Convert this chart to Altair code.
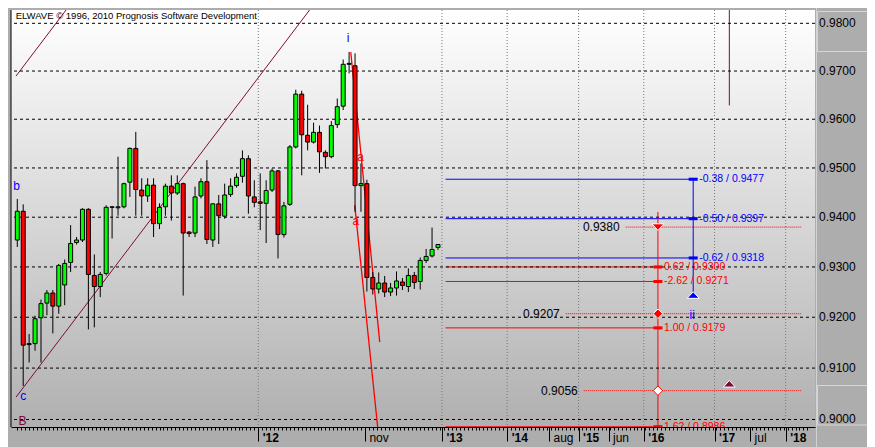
import json
import altair as alt
import pandas as pd

# ---------------- data ----------------
opens = [0.9354, 0.9412, 0.9146, 0.9148, 0.9199, 0.9228, 0.9248, 0.9222, 0.9264, 0.9309,
         0.9349, 0.9354, 0.9416, 0.9283, 0.9261, 0.9287, 0.9421, 0.9419, 0.9421, 0.9471,
         0.9540, 0.9455, 0.9443, 0.9465, 0.9387, 0.9421, 0.9463, 0.9449, 0.9468, 0.9370,
         0.9368, 0.9443, 0.9472, 0.9354, 0.9427, 0.9402, 0.9446, 0.9464, 0.9483, 0.9519,
         0.9441, 0.9431, 0.9428, 0.9455, 0.9494, 0.9365, 0.9426, 0.9543, 0.9652, 0.9567,
         0.9553, 0.9573, 0.9532, 0.9523, 0.9589, 0.9627, 0.9714, 0.9711, 0.9464, 0.9468,
         0.9279, 0.9256, 0.9268, 0.9250, 0.9258, 0.9270, 0.9261, 0.9283, 0.9271, 0.9313,
         0.9322, 0.9339]
highs = [0.9437, 0.9426, 0.9167, 0.9203, 0.9235, 0.9254, 0.9254, 0.9306, 0.9315, 0.9384,
         0.9360, 0.9418, 0.9418, 0.9325, 0.9290, 0.9424, 0.9422, 0.9523, 0.9470, 0.9542,
         0.9574, 0.9479, 0.9479, 0.9479, 0.9428, 0.9468, 0.9485, 0.9485, 0.9470, 0.9372,
         0.9462, 0.9479, 0.9516, 0.9428, 0.9445, 0.9468, 0.9479, 0.9489, 0.9536, 0.9526,
         0.9475, 0.9489, 0.9475, 0.9499, 0.9496, 0.9431, 0.9547, 0.9661, 0.9659, 0.9630,
         0.9593, 0.9587, 0.9536, 0.9596, 0.9643, 0.9724, 0.9740, 0.9737, 0.9509, 0.9476,
         0.9290, 0.9289, 0.9282, 0.9268, 0.9291, 0.9278, 0.9297, 0.9290, 0.9319, 0.9336,
         0.9379, 0.9346]
lows = [0.9340, 0.9065, 0.9111, 0.9134, 0.9111, 0.9204, 0.9168, 0.9207, 0.9224, 0.9290,
        0.9345, 0.9350, 0.9176, 0.9180, 0.9240, 0.9283, 0.9357, 0.9403, 0.9418, 0.9441,
        0.9403, 0.9403, 0.9431, 0.9360, 0.9376, 0.9403, 0.9393, 0.9445, 0.9243, 0.9360,
        0.9360, 0.9438, 0.9346, 0.9340, 0.9346, 0.9397, 0.9441, 0.9460, 0.9470, 0.9407,
        0.9420, 0.9374, 0.9348, 0.9451, 0.9317, 0.9359, 0.9423, 0.9540, 0.9485, 0.9536,
        0.9550, 0.9490, 0.9499, 0.9520, 0.9582, 0.9619, 0.9695, 0.9411, 0.9411, 0.9251,
        0.9245, 0.9247, 0.9240, 0.9242, 0.9243, 0.9254, 0.9250, 0.9256, 0.9255, 0.9308,
        0.9319, 0.9334]
closes = [0.9412, 0.9145, 0.9148, 0.9197, 0.9227, 0.9248, 0.9222, 0.9303, 0.9307, 0.9347,
          0.9354, 0.9416, 0.9285, 0.9261, 0.9285, 0.9420, 0.9420, 0.9421, 0.9468, 0.9540,
          0.9456, 0.9443, 0.9465, 0.9387, 0.9420, 0.9463, 0.9449, 0.9468, 0.9368, 0.9367,
          0.9441, 0.9472, 0.9355, 0.9427, 0.9403, 0.9445, 0.9463, 0.9481, 0.9519, 0.9443,
          0.9430, 0.9428, 0.9454, 0.9494, 0.9365, 0.9423, 0.9543, 0.9652, 0.9568, 0.9553,
          0.9573, 0.9533, 0.9523, 0.9587, 0.9626, 0.9714, 0.9716, 0.9464, 0.9468, 0.9279,
          0.9256, 0.9268, 0.9250, 0.9258, 0.9272, 0.9263, 0.9283, 0.9269, 0.9313, 0.9321,
          0.9335, 0.9345]

price_levels = [0.90, 0.91, 0.92, 0.93, 0.94, 0.95, 0.96, 0.97, 0.98]

axis_tick_pos = [40.67, 58.67, 71.67, 82.67, 89.73, 94.73, 99.78, 105.73, 117.67, 123.67, 129.67]
axis_tick_lab = ["'12", "nov", "'13", "'14", "aug", "'15", "jun", "'16", "'17", "jul", "'18"]
year_pos = [40.67, 71.67, 82.67, 94.73, 105.73, 117.67, 129.67]

blue_levels = [0.9477, 0.9397, 0.9318]
blue_labels = ["-0.38 / 0.9477", "-0.50 / 0.9397", "-0.62 / 0.9318"]
red_levels = [0.9300, 0.9271, 0.9179, 0.8986]
red_labels = ["0.62 / 0.9300", "-2.62 / 0.9271", "1.00 / 0.9179", "1.62 / 0.8986"]
fib_start = 72.28
blue_end = 114.07
red_end = 108.12
blue_arrow_price = 0.9244
red_top_price = 0.94106

mark_prices = [0.9380, 0.9207, 0.9056]
mark_labels = ["0.9380", "0.9207", "0.9056"]
mark_line_start = [102.67, 92.57, 95.6]
mark_line_end = 132.4

# trend channel (maroon) and projection lines (red)
channel_x1 = [-0.217, -0.217]
channel_y1 = [0.96895, 0.90433]
channel_x2 = [8.233, 49.33]
channel_y2 = [0.98281, 0.98281]
fan_x1 = [56.28, 56.95]
fan_y1 = [0.97396, 0.94243]
fan_x2 = [61.17, 60.83]
fan_y2 = [0.91510, 0.89844]
maroon_vline = [120.17, 0.96286, 0.98281]
maroon_tri = [120.17, 0.90694]

wave_blue_txt = ["i", "ii", "b", "c"]
wave_blue_x = [55.83, 113.9, -0.1, 1.0]
wave_blue_y = [0.97684, 0.92039, 0.94628, 0.90447]
wave_red_txt = ["a", "a"]
wave_red_x = [57.95, 57.12]
wave_red_y = [0.95221, 0.93918]
wave_mar_txt = ["B"]
wave_mar_x = [0.9]
wave_mar_y = [0.89968]

# ---------------- chart ----------------
W, HT = 804, 417
X_DOM = [-0.217, 133.783]
Y_DOM = [0.89855, 0.98281]
FONT = "Liberation Sans"
BLUE, RED, MAROON = "#0000ff", "#ff0000", "#7d0a3c"

xs = alt.Scale(domain=X_DOM, nice=False, zero=False)
ys = alt.Scale(type="log", domain=Y_DOM, nice=False, zero=False)


def X(f, axis=None):
    return alt.X(f, type="quantitative", scale=xs, axis=axis, title=None)


def Y(f, axis=None):
    return alt.Y(f, type="quantitative", scale=ys, axis=axis, title=None)


candles = pd.DataFrame({"i": list(range(len(opens))), "open": opens, "high": highs,
                        "low": lows, "close": closes})
candles["dir"] = ["up" if c >= o else "down" for o, c in zip(opens, closes)]

one = pd.DataFrame({"a": [0]})

bg = alt.Chart(one).mark_rect(
    fill=alt.LinearGradient(gradient="linear", x1=0, x2=0, y1=0, y2=1,
                            stops=[alt.GradientStop(color="#ffffff", offset=0),
                                   alt.GradientStop(color="#b0b0b0", offset=1)]),
    strokeWidth=0,
).encode(x=alt.value(0), x2=alt.value(W), y=alt.value(0), y2=alt.value(HT))

panel_line = alt.Chart(one).mark_rule(color="#d2d2d2", strokeWidth=1).encode(
    x=alt.value(W + 1.5), y=alt.value(-2), y2=alt.value(HT + 20))
box_top = alt.Chart(one).mark_rect(fill=None, stroke="#d6d6d6", strokeWidth=1).encode(
    x=alt.value(W + 2.5), x2=alt.value(W + 57), y=alt.value(1.5), y2=alt.value(41.5))
box_bot = alt.Chart(one).mark_rect(fill=None, stroke="#d6d6d6", strokeWidth=1).encode(
    x=alt.value(W + 2.5), x2=alt.value(W + 57), y=alt.value(375.5), y2=alt.value(415))

chan = alt.Chart(pd.DataFrame({"x": channel_x1, "y": channel_y1, "x2": channel_x2, "y2": channel_y2})
                 ).mark_rule(color=MAROON, strokeWidth=1, clip=True).encode(
    x=X("x"), y=Y("y"), x2="x2", y2="y2")

mvl = alt.Chart(pd.DataFrame({"x": [maroon_vline[0]], "y": [maroon_vline[1]], "y2": [maroon_vline[2]]})
                ).mark_rule(color=MAROON, strokeWidth=1, clip=True).encode(x=X("x"), y=Y("y"), y2="y2")

blue_df = pd.DataFrame({"x": [fib_start] * 3, "x2": [blue_end] * 3, "y": blue_levels, "t": blue_labels})
red_df = pd.DataFrame({"x": [fib_start] * 4, "x2": [red_end] * 4, "y": red_levels, "t": red_labels})

blue_lines = alt.Chart(blue_df).mark_rule(color=BLUE, strokeWidth=1, clip=True).encode(
    x=X("x"), x2="x2", y=Y("y"))
red_lines = alt.Chart(red_df).mark_rule(color=RED, strokeWidth=1, clip=True).encode(
    x=X("x"), x2="x2", y=Y("y"))

blue_v = alt.Chart(pd.DataFrame({"x": [blue_end], "y": [blue_levels[0]], "y2": [blue_arrow_price]})
                   ).mark_rule(color=BLUE, strokeWidth=1).encode(x=X("x"), y=Y("y"), y2="y2")
red_v = alt.Chart(pd.DataFrame({"x": [red_end], "y": [red_top_price], "y2": [Y_DOM[0]]})
                  ).mark_rule(color=RED, strokeWidth=1, clip=True).encode(x=X("x"), y=Y("y"), y2="y2")

bar_path = "M-1,-0.34L1,-0.34L1,0.34L-1,0.34Z"
blue_bars = alt.Chart(blue_df).mark_point(shape=bar_path, size=81, filled=True, fill=BLUE,
                                          strokeWidth=0, opacity=1).encode(x=X("x2"), y=Y("y"))
red_bars = alt.Chart(red_df).mark_point(shape=bar_path, size=81, filled=True, fill=RED,
                                        strokeWidth=0, opacity=1, clip=True).encode(x=X("x2"), y=Y("y"))

blue_txt = alt.Chart(blue_df).mark_text(align="left", baseline="middle", dx=6, color=BLUE,
                                        fontSize=10.5, font=FONT).encode(x=X("x2"), y=Y("y"), text="t")
red_txt = alt.Chart(red_df).mark_text(align="left", baseline="middle", dx=6, color=RED,
                                      fontSize=10.5, font=FONT, clip=True).encode(x=X("x2"), y=Y("y"), text="t")

pm_df = pd.DataFrame({"x": mark_line_start, "x2": [mark_line_end] * 3, "y": mark_prices, "t": mark_labels})
pm_lines = alt.Chart(pm_df).mark_rule(color=RED, strokeWidth=1, strokeDash=[1, 1]).encode(
    x=X("x"), x2="x2", y=Y("y"))
pm_txt = alt.Chart(pm_df).mark_text(align="right", baseline="middle", dx=-6, color="black",
                                    fontSize=12, font=FONT).encode(x=X("x"), y=Y("y"), text="t")

levels_df = pd.DataFrame({"v": price_levels})
hgrid = alt.Chart(levels_df).mark_rule(
    color="black", strokeWidth=1, strokeDash=[3, 3]).encode(y=Y("v"))
price_axis_txt = alt.Chart(levels_df).mark_text(
    align="left", baseline="middle", fontSize=12, font=FONT, color="black").encode(
    x=alt.value(W + 4), y=Y("v"), text=alt.Text("v:Q", format=".4f"))

tick_lab_expr = f"{json.dumps(axis_tick_lab)}[indexof({json.dumps(axis_tick_pos)}, datum.value)]"
bold_test = f"indexof({json.dumps(year_pos)}, datum.value) >= 0"

vgrid = alt.Chart(pd.DataFrame({"v": year_pos})).mark_rule(
    color="#777777", strokeWidth=1, strokeDash=[1, 2]).encode(
    x=X("v", axis=alt.Axis(orient="bottom", values=axis_tick_pos, labelExpr=tick_lab_expr,
                           labelAlign="left", labelBaseline="top", labelOffset=4, labelPadding=-9,
                           tickSize=14, tickColor="black", tickWidth=1, domain=True,
                           domainColor="black", domainWidth=1, grid=False, labelFontSize=12,
                           labelFont=FONT, labelColor="black",
                           labelFontWeight={"condition": {"test": bold_test, "value": "bold"},
                                            "value": "normal"},
                           labelOverlap=False, labelFlush=False, title=None)))

fan = alt.Chart(pd.DataFrame({"x": fan_x1, "y": fan_y1, "x2": fan_x2, "y2": fan_y2})
                ).mark_rule(color=RED, strokeWidth=1.3, clip=True).encode(
    x=X("x"), y=Y("y"), x2="x2", y2="y2")

minor_pos = [round(axis_tick_pos[0] + k * (2 / 3), 3) for k in range(-61, 140)
             if X_DOM[0] <= axis_tick_pos[0] + k * (2 / 3) <= X_DOM[1]]

wicks = alt.Chart(candles).mark_rule(color="black", strokeWidth=1, clip=True).encode(
    x=X("i", axis=alt.Axis(orient="bottom", values=minor_pos, labels=False, tickSize=3,
                           tickColor="black", domain=False, grid=False, title=None)),
    y=Y("low"), y2="high")
bodies = alt.Chart(candles).mark_bar(size=4, stroke="black", strokeWidth=1, clip=True).encode(
    x=X("i"), y=Y("open"), y2="close",
    color=alt.Color("dir:N", scale=alt.Scale(domain=["up", "down"], range=["#00ff00", "#ff0000"]),
                    legend=None))

tri_up = "M0,-0.55L1,0.55L-1,0.55Z"
tri_dn = "M0,0.55L1,-0.55L-1,-0.55Z"
m_red_tri = alt.Chart(pd.DataFrame({"x": [red_end], "y": [mark_prices[0]]})).mark_point(
    shape=tri_dn, size=144, filled=True, fill=RED, stroke="white", strokeWidth=1, opacity=1
).encode(x=X("x"), y=Y("y"))
m_red_dia = alt.Chart(pd.DataFrame({"x": [red_end], "y": [mark_prices[1]]})).mark_point(
    shape="diamond", size=90, filled=True, fill=RED, stroke="white", strokeWidth=1, opacity=1
).encode(x=X("x"), y=Y("y"))
m_wht_dia = alt.Chart(pd.DataFrame({"x": [red_end], "y": [mark_prices[2]]})).mark_point(
    shape="diamond", size=90, filled=True, fill="white", stroke=RED, strokeWidth=1, opacity=1
).encode(x=X("x"), y=Y("y"))
m_blue_tri = alt.Chart(pd.DataFrame({"x": [blue_end], "y": [blue_arrow_price]})).mark_point(
    shape=tri_up, size=144, filled=True, fill=BLUE, stroke="white", strokeWidth=1, opacity=1
).encode(x=X("x"), y=Y("y"))
m_mar_tri = alt.Chart(pd.DataFrame({"x": [maroon_tri[0]], "y": [maroon_tri[1]]})).mark_point(
    shape=tri_up, size=144, filled=True, fill=MAROON, stroke="white", strokeWidth=1, opacity=1
).encode(x=X("x"), y=Y("y"))

wb = alt.Chart(pd.DataFrame({"x": wave_blue_x, "y": wave_blue_y, "t": wave_blue_txt})).mark_text(
    color=BLUE, fontSize=12, font=FONT, baseline="middle", clip=True).encode(x=X("x"), y=Y("y"), text="t")
wr = alt.Chart(pd.DataFrame({"x": wave_red_x, "y": wave_red_y, "t": wave_red_txt})).mark_text(
    color=RED, fontSize=12, font=FONT, baseline="middle", clip=True).encode(x=X("x"), y=Y("y"), text="t")
wm = alt.Chart(pd.DataFrame({"x": wave_mar_x, "y": wave_mar_y, "t": wave_mar_txt})).mark_text(
    color=MAROON, fontSize=12, font=FONT, baseline="middle", clip=True).encode(x=X("x"), y=Y("y"), text="t")

title = alt.Chart(one).mark_text(align="left", baseline="middle", fontSize=9.5, font=FONT,
                                 color="black").encode(
    x=alt.value(4.7), y=alt.value(5.8),
    text=alt.value("ELWAVE \u00a9 1996, 2010 Prognosis Software Development"))

left_border = alt.Chart(one).mark_rule(color="black", strokeWidth=1).encode(
    x=alt.value(0), y=alt.value(0), y2=alt.value(HT))

chart = alt.layer(
    bg, panel_line, box_top, box_bot, chan, mvl, blue_lines, red_lines, pm_lines, blue_v, red_v,
    hgrid, vgrid, blue_txt, red_txt, pm_txt, blue_bars, red_bars,
    fan, wicks, bodies, m_red_tri, m_red_dia, m_wht_dia, m_blue_tri, m_mar_tri,
    wb, wr, wm, title, left_border, price_axis_txt,
).resolve_axis(x="independent").properties(
    width=W, height=HT,
    padding={"left": 3, "top": 2, "right": 52, "bottom": 20},
    autosize=alt.AutoSizeParams(type="none"),
).configure(background="#adadad").configure_view(stroke=None)

chart.save("out.html", embed_options={"renderer": "svg", "actions": False})
